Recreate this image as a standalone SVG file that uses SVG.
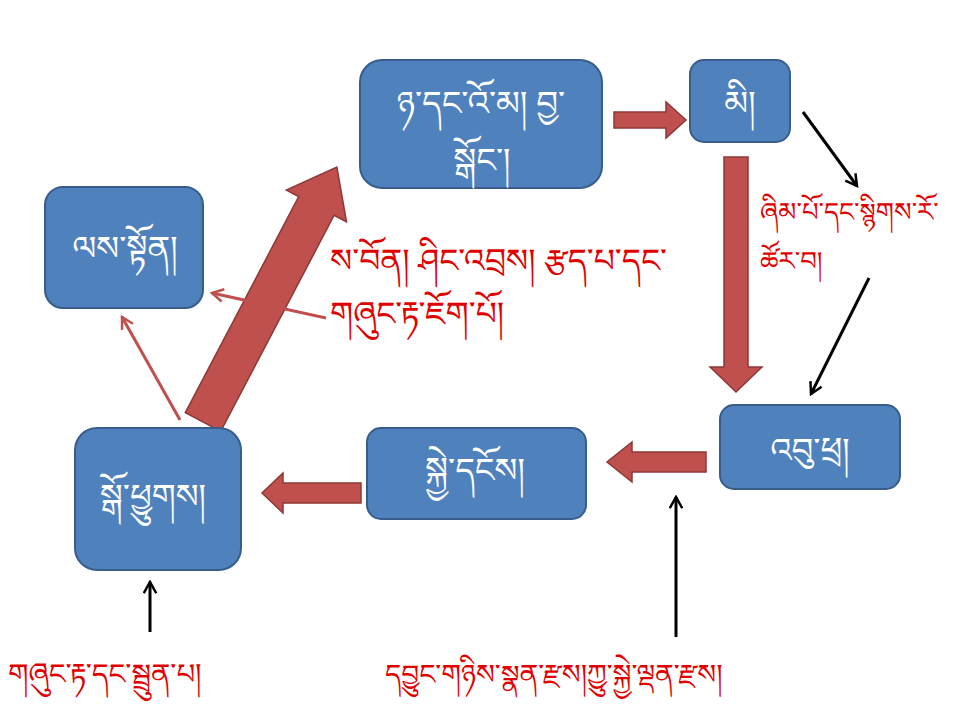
<svg xmlns="http://www.w3.org/2000/svg" width="960" height="720" viewBox="0 0 960 720">
<defs>
<style>
.box{fill:#4F81BD;stroke:#385D8A;stroke-width:2}
.bt{fill:#FFFFFF;font-family:"Noto Serif Tibetan","Noto Sans Tibetan","Jomolhari","Microsoft Himalaya","DejaVu Sans",sans-serif;font-size:34px;text-anchor:middle}
.rt{fill:#E00000;font-family:"Noto Serif Tibetan","Noto Sans Tibetan","Jomolhari","Microsoft Himalaya","DejaVu Sans",sans-serif}
.blk{fill:#C0504D;stroke:#8C3836;stroke-width:1.5}
.thinr{fill:none;stroke:#C0504D;stroke-width:3}
.thinb{fill:none;stroke:#000000;stroke-width:3}
</style>
<marker id="mr" viewBox="0 0 12 12" refX="10" refY="6" markerWidth="5" markerHeight="5" orient="auto" markerUnits="strokeWidth">
<path d="M1,1 L10,6 L1,11" fill="none" stroke="#C0504D" stroke-width="2"/>
</marker>
<marker id="mb" viewBox="0 0 12 12" refX="10" refY="6" markerWidth="5" markerHeight="5" orient="auto" markerUnits="strokeWidth">
<path d="M1,1 L10,6 L1,11" fill="none" stroke="#000000" stroke-width="2"/>
</marker>
</defs>
<rect width="960" height="720" fill="#FFFFFF"/>

<g id="connectors">
<polygon class="blk" points="614,112 666,112 666,102 686,120 666,138 666,128 614,128"/>
<polygon class="blk" points="724,157 748,157 748,367 762,367 736,392 710,367 724,367"/>
<polygon class="blk" points="706,452 632,452 632,442 607,462 632,482 632,472 706,472"/>
<polygon class="blk" points="361,483 283,483 283,473 262,493 283,513 283,503 361,503"/>
<polygon class="blk" transform="translate(203,422) rotate(-62.3)" points="0,-20 244,-20 244,-34 288,0 244,34 244,20 0,20"/>
<line class="thinr" x1="326" y1="318" x2="212" y2="293" marker-end="url(#mr)"/>
<line class="thinr" x1="180" y1="420" x2="122" y2="317" marker-end="url(#mr)"/>
<line class="thinb" x1="803" y1="112" x2="857" y2="186" marker-end="url(#mb)"/>
<line class="thinb" x1="869" y1="278" x2="811" y2="394" marker-end="url(#mb)"/>
<line class="thinb" x1="676" y1="637" x2="676" y2="497" marker-end="url(#mb)"/>
<line class="thinb" x1="150" y1="632" x2="150" y2="582" marker-end="url(#mb)"/>
</g>

<g id="node-food">
<rect class="box" x="360" y="60" width="242" height="128" rx="22"/>
<text class="bt" x="481" y="115" font-size="36">ཉ་དང་འོ་མ། བྱ་</text>
<text class="bt" x="482" y="172" font-size="36">སྒོང་།</text>
</g>
<g id="node-human">
<rect class="box" x="690" y="60" width="100" height="82" rx="14"/>
<text class="bt" x="740" y="115" font-size="40">མི།</text>
</g>
<g id="node-crops">
<rect class="box" x="45" y="187" width="158" height="121" rx="18"/>
<text class="bt" x="125" y="260">ལས་སྟོན།</text>
</g>
<g id="node-insects">
<rect class="box" x="720" y="405" width="180" height="84" rx="14"/>
<text class="bt" x="810" y="462" font-size="38">འབུ་ཕྲ།</text>
</g>
<g id="node-organisms">
<rect class="box" x="367" y="428" width="219" height="91" rx="14"/>
<text class="bt" x="475" y="482" font-size="33">སྐྱེ་དངོས།</text>
</g>
<g id="node-livestock">
<rect class="box" x="75" y="428" width="166" height="142" rx="22"/>
<text class="bt" x="153" y="508" font-size="31">སྒོ་ཕྱུགས།</text>
</g>

<g id="labels">
<text class="rt" x="330" y="272" font-size="33">ས་བོན། ཤིང་འབྲས། རྩད་པ་དང་</text>
<text class="rt" x="330" y="325" font-size="33">གཞུང་རྟ་ཇོག་པོ།</text>
<text class="rt" x="760" y="221" font-size="26">ཞིམ་པོ་དང་སྙིགས་རོ་</text>
<text class="rt" x="760" y="270" font-size="26">ཚོར་བ།</text>
<text class="rt" x="385" y="684" font-size="28">དབྱུང་གཉིས་སྣན་རྫས།ཀྱུ་སྐྱེ་ལྡན་རྫས།</text>
<text class="rt" x="8" y="684" font-size="29">གཞུང་རྟ་དང་སྦྲུན་པ།</text>
</g>
</svg>
